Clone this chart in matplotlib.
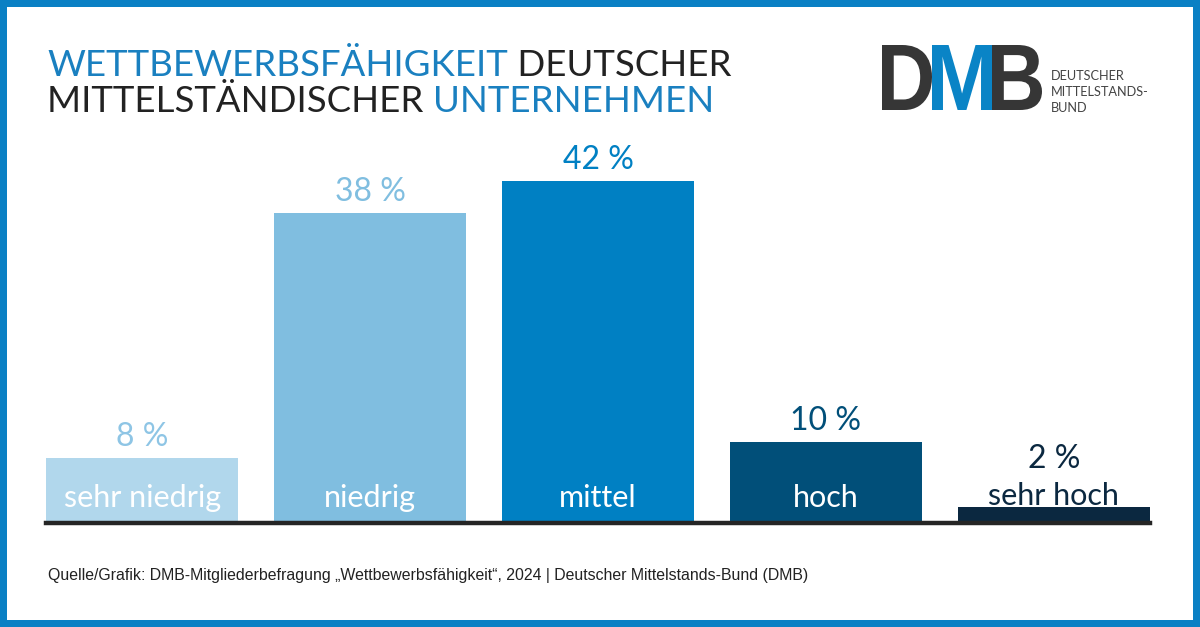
import matplotlib.pyplot as plt
import numpy as np
from matplotlib.patches import Rectangle, PathPatch
from matplotlib.textpath import TextPath
from matplotlib.font_manager import FontProperties
from matplotlib.transforms import Affine2D

# data
kategorien = ['sehr niedrig', 'niedrig', 'mittel', 'hoch', 'sehr hoch']
werte = [8, 38, 42, 10, 2]
farben = ['#b1d7ec', '#80bee0', '#0080c3', '#014f79', '#0b2840']
label_farben = ['#8ec5e5', '#80bee0', '#0080c3', '#014f79', '#0b2840']
quelle = 'Quelle/Grafik: DMB-Mitgliederbefragung \u201eWettbewerbsf\u00e4higkeit\u201c, 2024 | Deutscher Mittelstands-Bund (DMB)'

W, H = 1200, 627
fig = plt.figure(figsize=(W / 100, H / 100), dpi=100)
fig.patch.set_facecolor('#0a80c4')
fig.add_artist(Rectangle((7 / W, 7 / H), 1186 / W, 613 / H, transform=fig.transFigure,
                         facecolor='white', edgecolor='none', zorder=-5))

# bar axes, placed in pixels
px_pro_prozent = 8.15
ymax = 50
base = 523
ax = fig.add_axes([46 / W, (H - base) / H, 1104 / W, ymax * px_pro_prozent / H])
ax.set_facecolor('none')
breite = 0.843
x = np.arange(len(werte))
ax.bar(x, werte, width=breite, color=farben, zorder=2)
ax.set_xlim(-breite / 2, len(werte) - 1 + breite / 2)
ax.set_ylim(0, ymax)
ax.axis('off')
ax.axhline(0, color='#252525', lw=3.2, zorder=3, clip_on=False)

lato = 'Lato'
for i, v in enumerate(werte):
    if v < 5:
        # bar too small: both labels above it
        ax.annotate(kategorien[i], (x[i], 0), xytext=(0, 18), textcoords='offset pixels',
                    ha='center', va='baseline', fontsize=22, family=lato, color=label_farben[i])
        ax.annotate(f'{v} %', (x[i], 0), xytext=(0, 55), textcoords='offset pixels',
                    ha='center', va='baseline', fontsize=23, family=lato, color=label_farben[i])
    else:
        ax.annotate(kategorien[i], (x[i], 0), xytext=(0, 16), textcoords='offset pixels',
                    ha='center', va='baseline', fontsize=22, family=lato, color='white')
        ax.annotate(f'{v} %', (x[i], v), xytext=(0, 12), textcoords='offset pixels',
                    ha='center', va='baseline', fontsize=23, family=lato, color=label_farben[i])

# overlay in pixel coords for texts
ov = fig.add_axes([0, 0, 1, 1])
ov.set_xlim(0, W)
ov.set_ylim(H, 0)
ov.axis('off')
ov.set_facecolor('none')

blau = '#1a80c0'
dunkel = '#222222'
t1 = ov.text(47, 76, 'WETTBEWERBSF\u00c4HIGKEIT', fontsize=26.4, family=lato,
             color=blau, va='baseline')
ov.annotate(' DEUTSCHER', xy=(1, 0), xycoords=t1, va='bottom', fontsize=26.4, family=lato,
            color=dunkel)
t2 = ov.text(47, 112, 'MITTELST\u00c4NDISCHER ', fontsize=26.4, family=lato,
             color=dunkel, va='baseline')
ov.annotate('UNTERNEHMEN', xy=(1, 0), xycoords=t2, va='bottom', fontsize=26.4, family=lato,
            color=blau)

ov.text(48, 580, quelle, fontsize=11.45, family='Liberation Sans', color='#222222', va='baseline')

# logo
fp = FontProperties(family='Liberation Sans', weight='bold')
for buchst, x0, x1, col in [('D', 882, 932, '#363636'), ('M', 932, 992, '#0a84c6'),
                            ('B', 992, 1042, '#363636')]:
    tp = TextPath((0, 0), buchst, size=1, prop=fp)
    ext = tp.get_extents()
    sx = (x1 - x0) / ext.width
    sy = (110 - 45) / ext.height
    tr = Affine2D().translate(-ext.x0, -ext.y0).scale(sx, -sy).translate(x0, 110)
    ov.add_patch(PathPatch(tr.transform_path(tp), facecolor=col, edgecolor='none'))

for j, zeile in enumerate(['DEUTSCHER', 'MITTELSTANDS-', 'BUND']):
    ov.text(1051, 80 + j * 16, zeile, fontsize=9.2, family=lato, color='#444444', va='baseline')

fig.savefig('out.png', dpi=100)
